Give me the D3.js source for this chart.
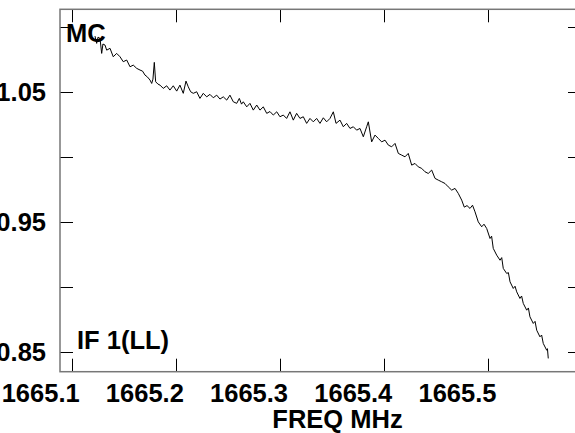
<!DOCTYPE html>
<html>
<head>
<meta charset="utf-8">
<script src="https://cdn.jsdelivr.net/npm/d3@7"></script>
<style>
  body { margin: 0; background: #fff; }
  svg { display: block; }
  text { font-family: "Liberation Sans", Arial, Helvetica, sans-serif; font-weight: bold; fill: #000; }
</style>
</head>
<body>
<div id="chart"></div>
<script>
// spectrum: frequency (MHz) and amplitude
const freq = [
    1665.1224, 1665.1240, 1665.1253, 1665.1272, 1665.1288, 1665.1300, 1665.1320, 1665.1336,
    1665.1368, 1665.1399, 1665.1432, 1665.1464, 1665.1495, 1665.1528, 1665.1560, 1665.1591,
    1665.1624, 1665.1656, 1665.1680, 1665.1704, 1665.1728, 1665.1752, 1665.1768, 1665.1780,
    1665.1793, 1665.1806, 1665.1828, 1665.1848, 1665.1879, 1665.1912, 1665.1943, 1665.1975,
    1665.2008, 1665.2039, 1665.2071, 1665.2097, 1665.2119, 1665.2142, 1665.2167, 1665.2200,
    1665.2231, 1665.2263, 1665.2296, 1665.2327, 1665.2359, 1665.2392, 1665.2423, 1665.2455,
    1665.2488, 1665.2519, 1665.2551, 1665.2584, 1665.2609, 1665.2630, 1665.2647, 1665.2680,
    1665.2711, 1665.2743, 1665.2776, 1665.2807, 1665.2839, 1665.2872, 1665.2903, 1665.2935,
    1665.2968, 1665.2999, 1665.3031, 1665.3063, 1665.3095, 1665.3127, 1665.3159, 1665.3191,
    1665.3223, 1665.3255, 1665.3287, 1665.3319, 1665.3351, 1665.3383, 1665.3415, 1665.3447,
    1665.3479, 1665.3511, 1665.3537, 1665.3575, 1665.3607, 1665.3639, 1665.3671, 1665.3703,
    1665.3735, 1665.3767, 1665.3799, 1665.3831, 1665.3847, 1665.3879, 1665.3911, 1665.3943,
    1665.3975, 1665.4007, 1665.4039, 1665.4071, 1665.4103, 1665.4135, 1665.4167, 1665.4199,
    1665.4230, 1665.4263, 1665.4295, 1665.4326, 1665.4359, 1665.4391, 1665.4422, 1665.4455,
    1665.4487, 1665.4518, 1665.4551, 1665.4583, 1665.4614, 1665.4647, 1665.4679, 1665.4710,
    1665.4743, 1665.4768, 1665.4794, 1665.4823, 1665.4847, 1665.4871, 1665.4902, 1665.4935,
    1665.4957, 1665.4983, 1665.5015, 1665.5030, 1665.5046, 1665.5079, 1665.5111, 1665.5127,
    1665.5142, 1665.5175, 1665.5191, 1665.5207, 1665.5238, 1665.5255, 1665.5271, 1665.5302,
    1665.5318, 1665.5334, 1665.5367, 1665.5383, 1665.5398, 1665.5430, 1665.5447, 1665.5463,
    1665.5494, 1665.5510, 1665.5526, 1665.5559, 1665.5566, 1665.5574
];
const amp = [
    1.0928, 1.0872, 1.0920, 1.0910, 1.0795, 1.0867, 1.0859, 1.0820,
    1.0834, 1.0769, 1.0795, 1.0769, 1.0731, 1.0744, 1.0692, 1.0705,
    1.0680, 1.0667, 1.0659, 1.0628, 1.0613, 1.0590, 1.0564, 1.0597,
    1.0726, 1.0577, 1.0559, 1.0551, 1.0526, 1.0546, 1.0513, 1.0546,
    1.0505, 1.0551, 1.0488, 1.0582, 1.0538, 1.0500, 1.0488, 1.0500,
    1.0449, 1.0488, 1.0461, 1.0480, 1.0454, 1.0474, 1.0444, 1.0461,
    1.0436, 1.0474, 1.0423, 1.0411, 1.0449, 1.0405, 1.0423, 1.0384,
    1.0411, 1.0359, 1.0398, 1.0359, 1.0384, 1.0334, 1.0348, 1.0321,
    1.0346, 1.0308, 1.0321, 1.0295, 1.0346, 1.0282, 1.0334, 1.0295,
    1.0308, 1.0257, 1.0295, 1.0269, 1.0295, 1.0257, 1.0300, 1.0269,
    1.0295, 1.0346, 1.0257, 1.0282, 1.0231, 1.0257, 1.0218, 1.0231,
    1.0205, 1.0218, 1.0154, 1.0231, 1.0269, 1.0115, 1.0167, 1.0141,
    1.0115, 1.0128, 1.0090, 1.0077, 1.0103, 1.0026, 1.0013, 1.0000,
    1.0026, 0.9936, 0.9949, 0.9923, 0.9911, 0.9885, 0.9872, 0.9898,
    0.9834, 0.9821, 0.9808, 0.9795, 0.9769, 0.9744, 0.9757, 0.9719,
    0.9667, 0.9613, 0.9625, 0.9603, 0.9628, 0.9577, 0.9500, 0.9462,
    0.9482, 0.9449, 0.9372, 0.9390, 0.9296, 0.9244, 0.9205, 0.9225,
    0.9142, 0.9103, 0.9110, 0.9039, 0.8988, 0.9005, 0.8962, 0.8911,
    0.8930, 0.8873, 0.8821, 0.8838, 0.8770, 0.8719, 0.8735, 0.8667,
    0.8616, 0.8630, 0.8565, 0.8513, 0.8525, 0.8450
];
const xTicks = [1665.1, 1665.2, 1665.3, 1665.4, 1665.5, 1665.6];
const yTicks = [0.85, 0.90, 0.95, 1.00, 1.05, 1.10];
const yLabels = [0.85, 0.95, 1.05];

const W = 575, H = 433;
const box = { left: 60, right: 581, top: 9.3, bottom: 371.7 };
const tickLen = 13;
const fs = "25.5px";

const svg = d3.select("#chart")
    .append("svg")
    .attr("width", W)
    .attr("height", H);

const x = d3.scaleLinear()
    .domain([1665.0888, 1665.5888])
    .range([box.left, box.right]);

const y = d3.scaleLinear()
    .domain([0.8348, 1.1134])
    .range([box.bottom, box.top]);

// ticks on all four sides, pointing inward
const tickG = svg.append("g").attr("stroke", "#000").attr("stroke-width", 1);

xTicks.forEach(t => {
    const px = Math.round(x(t)) + 0.5;
    tickG.append("line").attr("x1", px).attr("x2", px)
        .attr("y1", box.bottom).attr("y2", box.bottom - tickLen);
    tickG.append("line").attr("x1", px).attr("x2", px)
        .attr("y1", box.top).attr("y2", box.top + tickLen);
});

yTicks.forEach(t => {
    const py = Math.round(y(t)) + 0.5;
    tickG.append("line").attr("x1", box.left).attr("x2", box.left + tickLen)
        .attr("y1", py).attr("y2", py);
    tickG.append("line").attr("x1", box.right).attr("x2", box.right - tickLen)
        .attr("y1", py).attr("y2", py);
});

// frame
svg.append("rect")
    .attr("x", box.left)
    .attr("y", box.top)
    .attr("width", box.right - box.left)
    .attr("height", box.bottom - box.top)
    .attr("fill", "none")
    .attr("stroke", "#777")
    .attr("stroke-width", 1.5);

// spectrum
const pts = freq.map((f, i) => [f, amp[i]]);
const line = d3.line()
    .x(d => x(d[0]))
    .y(d => y(d[1]));

svg.append("path")
    .datum(pts)
    .attr("fill", "none")
    .attr("stroke", "#000")
    .attr("stroke-width", 1)
    .attr("d", line);

// tick labels
svg.selectAll("text.xlab")
    .data(xTicks.filter(t => x(t) < W))
    .enter()
    .append("text")
    .attr("class", "xlab")
    .attr("x", d => x(d) + 8)
    .attr("y", 402)
    .attr("text-anchor", "end")
    .style("font-size", fs)
    .text(d => d3.format(".1f")(d));

svg.selectAll("text.ylab")
    .data(yLabels)
    .enter()
    .append("text")
    .attr("class", "ylab")
    .attr("x", 46)
    .attr("y", d => y(d) + 9.5)
    .attr("text-anchor", "end")
    .style("font-size", fs)
    .text(d => d3.format(".2f")(d));

svg.append("text")
    .attr("x", 337.5)
    .attr("y", 428)
    .attr("text-anchor", "middle")
    .style("font-size", fs)
    .text("FREQ MHz");

svg.append("text")
    .attr("x", 66)
    .attr("y", 41.5)
    .style("font-size", fs)
    .text("MC");

svg.append("text")
    .attr("x", 77)
    .attr("y", 348.5)
    .style("font-size", fs)
    .text("IF 1(LL)");
</script>
</body>
</html>
